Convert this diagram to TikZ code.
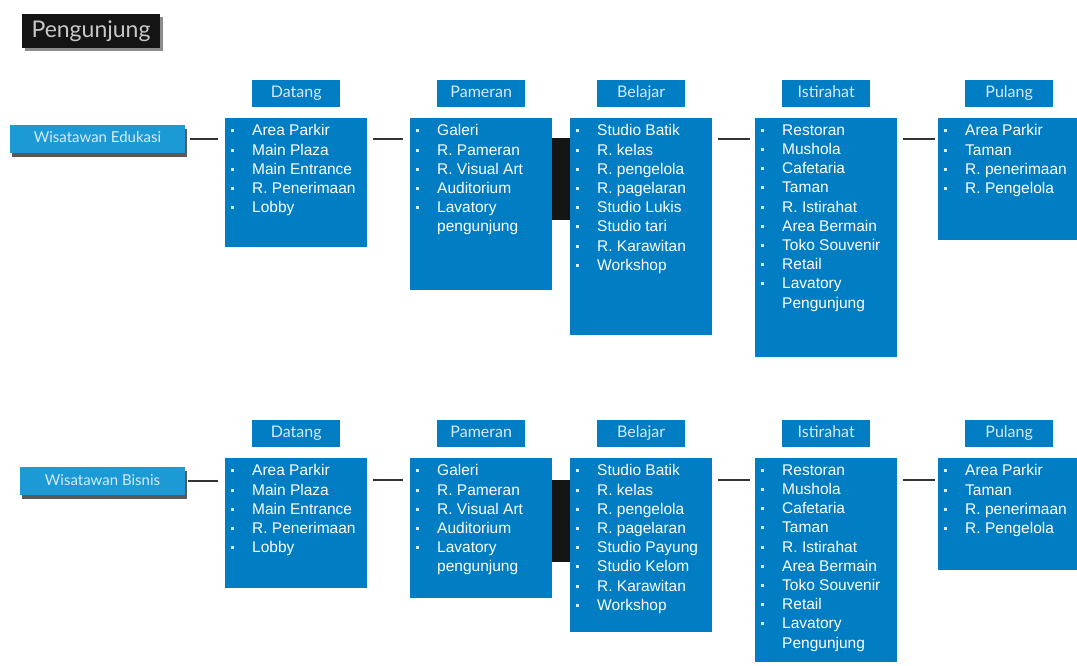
\documentclass[tikz,border=0pt]{standalone}
\usepackage{fontspec}
\setmainfont{Liberation Sans}
\newfontfamily\gill{Lato}
\usetikzlibrary{positioning,shadows}

\definecolor{boxblue}{RGB}{0,125,195}
\definecolor{visblue}{RGB}{27,154,214}
\definecolor{headtxt}{RGB}{214,234,248}

\newcommand{\bl}{\makebox[22pt][l]{\hspace{0.5pt}\raisebox{3.5pt}{\color{white!85!boxblue}\rule{3pt}{3pt}}}}
\newcommand{\lst}[2]{\begin{minipage}[t][#1][t]{132pt}\raggedright #2\end{minipage}}

\tikzset{
  listbox/.style={fill=boxblue, text=white, anchor=north west, inner xsep=5pt, inner ysep=6.5pt,
    font=\fontsize{15.5}{19.2}\selectfont},
  headbox/.style={fill=boxblue, text=headtxt, minimum width=88pt, minimum height=27pt, inner sep=0pt,
    text height=11.5pt, text depth=3.5pt, font=\gill\fontsize{16}{16}\selectfont},
  visbox/.style={fill=visblue, text=headtxt, minimum height=28pt, inner sep=0pt,
    text height=11pt, text depth=3pt, font=\gill\fontsize{15}{15}\selectfont,
    drop shadow={fill=black!65, opacity=1, shadow xshift=2pt, shadow yshift=-4pt}},
  link/.style={draw=black!80, line width=1.3pt},
}

\begin{document}
\begin{tikzpicture}[x=1pt,y=1pt]
\useasboundingbox (0,0) rectangle (1077,-666);

\node[fill=black!92, text=black!22, minimum width=138pt, minimum height=34pt, inner sep=0pt,
  font=\gill\fontsize{23}{23}\selectfont,
  drop shadow={fill=black!45, opacity=1, shadow xshift=3pt, shadow yshift=-3pt}]
  (title) at (91,-31) {Pengunjung};

% wisatawan edukasi
\node[visbox, minimum width=175pt] (wE) at (97.5,-139) {Wisatawan Edukasi};

\node[listbox] (dA) at (225,-118) {\lst{116pt}{\bl Area Parkir\\ \bl Main Plaza\\ \bl Main Entrance\\
  \bl R. Penerimaan\\ \bl Lobby}};
\node[listbox] (pA) at (410,-118) {\lst{159pt}{\bl Galeri\\ \bl R. Pameran\\ \bl R. Visual Art\\
  \bl Auditorium\\ \bl Lavatory\\ \hspace*{22pt}pengunjung}};
\node[listbox] (bA) at (570,-118) {\lst{204pt}{\bl Studio Batik\\ \bl R. kelas\\ \bl R. pengelola\\
  \bl R. pagelaran\\ \bl Studio Lukis\\ \bl Studio tari\\ \bl R. Karawitan\\ \bl Workshop}};
\node[listbox] (iA) at (755,-118) {\lst{226pt}{\bl Restoran\\ \bl Mushola\\ \bl Cafetaria\\ \bl Taman\\
  \bl R. Istirahat\\ \bl Area Bermain\\ \bl Toko Souvenir\\ \bl Retail\\ \bl Lavatory\\
  \hspace*{22pt}Pengunjung}};
\node[listbox] (uA) at (938,-118) {\lst{109pt}{\bl Area Parkir\\ \bl Taman\\ \bl R. penerimaan\\
  \bl R. Pengelola}};

\node[headbox, above=11pt of dA] (hdA) {Datang};
\node[headbox, above=11pt of pA] (hpA) {Pameran};
\node[headbox, above=11pt of bA] (hbA) {Belajar};
\node[headbox, above=11pt of iA] (hiA) {Istirahat};
\node[headbox, above=11pt of uA] (huA) {Pulang};

\draw[link] ([xshift=5pt]wE.east) -- ([xshift=-7pt]wE.east -| dA.west);
\draw[link] ([xshift=6pt,yshift=-21pt]dA.north east) -- ([xshift=-7pt,yshift=-21pt]pA.north west);
\fill[black!92] ([yshift=-20pt]pA.north east) rectangle ([yshift=-102pt]bA.north west);
\draw[link] ([xshift=6pt,yshift=-21pt]bA.north east) -- ([xshift=-5pt,yshift=-21pt]iA.north west);
\draw[link] ([xshift=6pt,yshift=-21pt]iA.north east) -- ([xshift=-3pt,yshift=-21pt]uA.north west);

% wisatawan bisnis
\node[visbox, minimum width=165pt] (wB) at (102.5,-481) {Wisatawan Bisnis};

\node[listbox] (dB) at (225,-458) {\lst{117pt}{\bl Area Parkir\\ \bl Main Plaza\\ \bl Main Entrance\\
  \bl R. Penerimaan\\ \bl Lobby}};
\node[listbox] (pB) at (410,-458) {\lst{127pt}{\bl Galeri\\ \bl R. Pameran\\ \bl R. Visual Art\\
  \bl Auditorium\\ \bl Lavatory\\ \hspace*{22pt}pengunjung}};
\node[listbox] (bB) at (570,-458) {\lst{161pt}{\bl Studio Batik\\ \bl R. kelas\\ \bl R. pengelola\\
  \bl R. pagelaran\\ \bl Studio Payung\\ \bl Studio Kelom\\ \bl R. Karawitan\\ \bl Workshop}};
\node[listbox] (iB) at (755,-458) {\lst{191pt}{\bl Restoran\\ \bl Mushola\\ \bl Cafetaria\\ \bl Taman\\
  \bl R. Istirahat\\ \bl Area Bermain\\ \bl Toko Souvenir\\ \bl Retail\\ \bl Lavatory\\
  \hspace*{22pt}Pengunjung}};
\node[listbox] (uB) at (938,-458) {\lst{99pt}{\bl Area Parkir\\ \bl Taman\\ \bl R. penerimaan\\
  \bl R. Pengelola}};

\node[headbox, above=11pt of dB] (hdB) {Datang};
\node[headbox, above=11pt of pB] (hpB) {Pameran};
\node[headbox, above=11pt of bB] (hbB) {Belajar};
\node[headbox, above=11pt of iB] (hiB) {Istirahat};
\node[headbox, above=11pt of uB] (huB) {Pulang};

\draw[link] ([xshift=3pt]wB.east) -- ([xshift=-7pt]wB.east -| dB.west);
\draw[link] ([xshift=6pt,yshift=-22pt]dB.north east) -- ([xshift=-7pt,yshift=-22pt]pB.north west);
\fill[black!92] ([yshift=-22pt]pB.north east) rectangle ([yshift=-104pt]bB.north west);
\draw[link] ([xshift=6pt,yshift=-22pt]bB.north east) -- ([xshift=-5pt,yshift=-22pt]iB.north west);
\draw[link] ([xshift=6pt,yshift=-22pt]iB.north east) -- ([xshift=-3pt,yshift=-22pt]uB.north west);
\end{tikzpicture}
\end{document}
